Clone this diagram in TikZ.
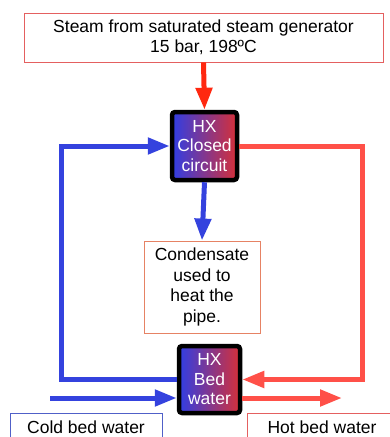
\documentclass[tikz,border=0pt]{standalone}
\usepackage{fontspec}
\setmainfont{Liberation Sans}
\usetikzlibrary{arrows.meta}

\definecolor{hxblue}{RGB}{48,62,228}
\definecolor{hxred}{RGB}{214,48,56}
\definecolor{loopblue}{RGB}{52,66,222}
\definecolor{loopred}{RGB}{255,80,72}
\definecolor{steamred}{RGB}{255,40,16}
\definecolor{edgered}{RGB}{228,96,96}
\definecolor{edgeorange}{RGB}{230,130,100}
\definecolor{edgeblue}{RGB}{80,96,200}

\tikzset{
  hxbox/.style={draw=black, line width=4.5pt, rounded corners=3pt,
    left color=hxblue, right color=hxred, text=white, align=center,
    inner sep=0pt, font=\fontsize{17.5}{19.5}\selectfont},
  infobox/.style={draw, line width=0.9pt, fill=white, align=center,
    inner sep=0pt, font=\fontsize{17.5}{20.5}\selectfont},
  flow/.style={line width=5pt, -{Triangle[length=22pt,width=16pt]}},
}

\begin{document}
\begin{tikzpicture}[x=1pt,y=-1pt]
\useasboundingbox (0,0) rectangle (390,437);
\clip (0,0) rectangle (390,437);
\node[infobox, draw=edgered, minimum width=359pt, minimum height=49pt] (steam) at (203.5,37.5)
  {Steam from saturated steam generator\\15 bar, 198ºC};
\node[hxbox, minimum width=65pt, minimum height=68pt] (hx1) at (204.5,146) {HX\\Closed\\circuit};
\node[infobox, draw=edgeorange, minimum width=116pt, minimum height=92pt] (cond) at (202,287)
  {Condensate\\used to\\heat the\\pipe.};
\node[hxbox, minimum width=61pt, minimum height=67pt] (hx2) at (209.5,379.5) {HX\\Bed\\water};
\node[infobox, draw=edgeblue, minimum width=152pt, minimum height=28pt] (cold) at (86,427) {Cold bed water};
\node[infobox, draw=edgered, minimum width=150pt, minimum height=28pt] (hot) at (322,427) {Hot bed water};
\coordinate (bl) at (61,0);
\coordinate (rl) at (362,0);
\coordinate (coldin) at (50,398);
\coordinate (hotout) at (342,398);
% steam side
\draw[flow, steamred] (steam.south) -- (hx1.north);
\draw[flow, loopblue] (hx1.south) -- (cond.north);
% closed loop
\draw[flow, loopblue] (hx2.west) -| (bl |- hx1.west) -- (hx1.west);
\draw[flow, loopred] (hx1.east) -| (rl |- hx2.east) -- (hx2.east);
% bed water
\draw[flow, loopblue] (coldin) -- (coldin -| hx2.west);
\draw[flow, loopred] (hotout -| hx2.east) -- (hotout);
\end{tikzpicture}
\end{document}
